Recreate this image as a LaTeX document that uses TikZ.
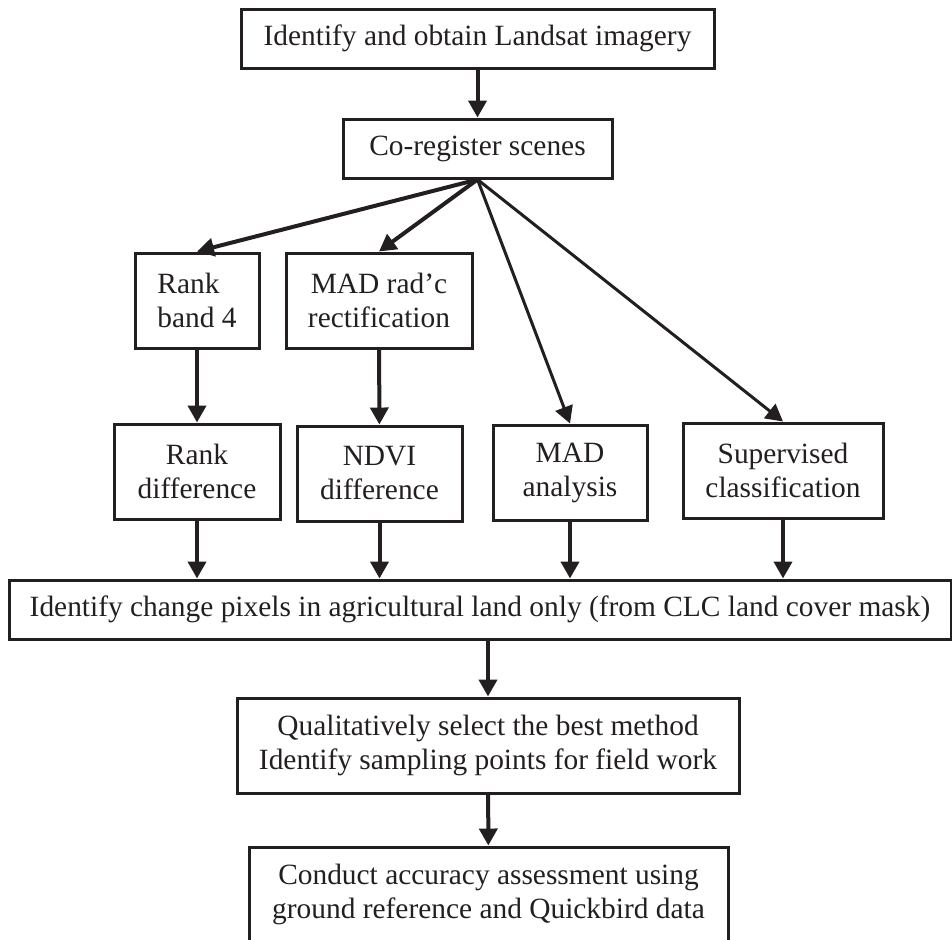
\documentclass[tikz,border=0pt]{standalone}
\usepackage{fontspec}
\setmainfont{Liberation Serif}
\usetikzlibrary{positioning,arrows.meta}
\definecolor{ink}{HTML}{231F20}
\tikzset{
  box/.style={draw=ink, text=ink, line width=1.5pt, inner sep=0pt, align=center, font=\fontsize{14.7}{17}\selectfont},
  flow/.style={draw=ink, line width=2pt, -{Triangle[length=8.5pt,width=9pt]}},
  fan/.style={flow, line width=1.5pt},
}

\begin{document}
\begin{tikzpicture}[x=0.5pt,y=-0.5pt]
\useasboundingbox (0,0) rectangle (952,939);
\node[box, minimum width=236.5pt, minimum height=29.5pt] (landsat) at (477.5,38.5) {Identify and obtain Landsat imagery};
\node[box, minimum width=134.5pt, minimum height=29.5pt] (coreg) at (477.5,148.5) {Co-register scenes};
\node[box, align=left, minimum width=62pt, minimum height=47.5pt] (rankband) at (197,300.5) {Rank\\band 4};
\node[box, minimum width=93pt, minimum height=47.5pt] (madrect) at (379,300.5) {MAD rad'c\\rectification};
\node[box, minimum width=83pt, minimum height=47.5pt] (rankdiff) at (197,471.5) {Rank\\difference};
\node[box, minimum width=82.5pt, minimum height=47.5pt] (ndvidiff) at (379.5,473.5) {NDVI\\difference};
\node[box, minimum width=77pt, minimum height=47.5pt] (madan) at (570,472.5) {MAD\\analysis};
\node[box, minimum width=100pt, minimum height=47.5pt] (superv) at (783,470.5) {Supervised\\classification};
\node[box, minimum width=471pt, minimum height=29.5pt] (change) at (480,609.5) {Identify change pixels in agricultural land only (from CLC land cover mask)};
\node[box, minimum width=251pt, minimum height=47.5pt] (quali) at (488,745.5) {Qualitatively select the best method\\Identify sampling points for field work};
\node[box, minimum width=239.5pt, minimum height=47.5pt] (conduct) at (488.5,894.5) {Conduct accuracy assessment using\\ground reference and Quickbird data};
\draw[flow] (landsat) -- (coreg);
\draw[flow] (coreg.south) -- (rankband.north);
\draw[flow] (coreg.south) -- (madrect.north);
\draw[fan] (coreg.south) -- (madan.north);
\draw[fan] (coreg.south) -- (superv.north);
\draw[flow] (rankband) -- (rankdiff);
\draw[flow] (madrect) -- (ndvidiff);
\draw[flow] (rankdiff.south) -- (rankdiff.south |- change.north);
\draw[flow] (ndvidiff.south) -- (ndvidiff.south |- change.north);
\draw[flow] (madan.south) -- (madan.south |- change.north);
\draw[flow] (superv.south) -- (superv.south |- change.north);
\draw[flow] (quali.north |- change.south) -- (quali.north);
\draw[flow] (quali) -- (conduct);
\end{tikzpicture}
\end{document}
